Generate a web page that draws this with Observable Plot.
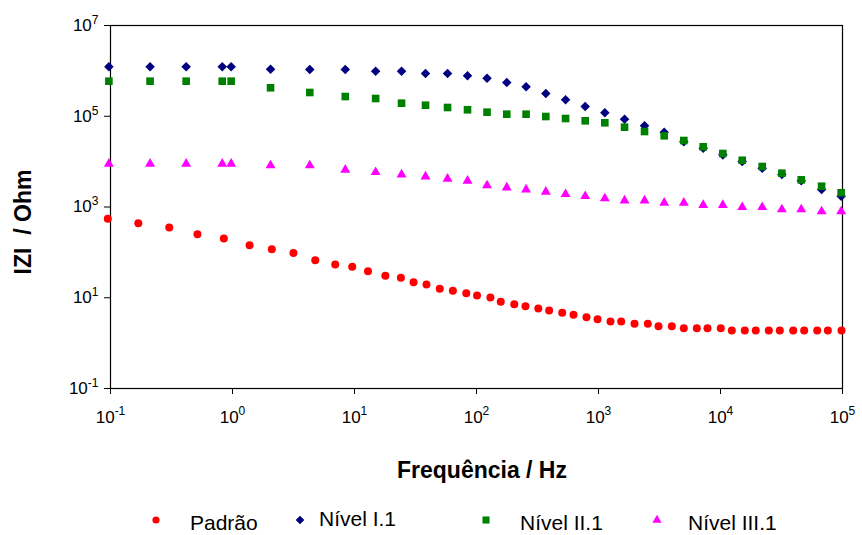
<!DOCTYPE html>
<html>
<head>
<meta charset="utf-8">
<script src="https://cdn.jsdelivr.net/npm/d3@7"></script>
<script src="https://cdn.jsdelivr.net/npm/@observablehq/plot@0.6"></script>
<style>
  body { margin: 0; background: #fff; }
  #chart { width: 862px; height: 535px; position: relative; overflow: hidden; background: #fff;
           font-family: "Liberation Sans", Arial, sans-serif; }
  #chart svg { display: block; }
</style>
</head>
<body>
<div id="chart"></div>
<script>
// ---- Data ----
const seriesNames = ["Padrão", "Nível I.1", "Nível II.1", "Nível III.1"];
const seriesColors = ["#FF0000", "#000080", "#008000", "#FF00FF"];

const freqPadrao = [0.095, 0.169, 0.303, 0.516, 0.849, 1.38, 2.10, 3.16, 4.77, 6.95,
  9.58, 12.9, 17.9, 24.0, 30.5, 38.9, 50.0, 64.0, 82.4, 101,
  130, 158, 204, 252, 321, 394, 504, 624, 797, 982,
  1254, 1535, 1972, 2537, 3104, 3990, 5002, 6394, 7822, 10050,
  12380, 15820, 19460, 24890, 30630, 39430, 48530, 62050, 75860, 98200];
const zPadrao = [550, 440, 353, 251, 202, 144, 117, 97, 67, 54,
  48, 38.5, 30.5, 27.5, 22, 19.6, 15.7, 14.2, 12.6, 11.2,
  10.1, 8.15, 7.21, 6.52, 5.80, 5.24, 4.66, 4.21, 3.73, 3.37,
  3.00, 3.00, 2.67, 2.67, 2.36, 2.36, 2.13, 2.13, 2.13, 2.13,
  1.90, 1.90, 1.90, 1.90, 1.90, 1.90, 1.90, 1.90, 1.90, 1.90];

const freqNivel = [0.097, 0.211, 0.417, 0.824, 0.975, 2.05, 4.30, 8.40, 14.9, 24.3,
  38.2, 57.9, 84.4, 122, 177, 255, 370, 537, 778, 1127,
  1635, 2384, 3456, 5005, 7215, 10450, 15070, 21980, 31840, 45920,
  67400, 97500];
const zNivel1 = [1.23e6, 1.23e6, 1.23e6, 1.23e6, 1.23e6, 1.09e6, 1.07e6, 1.07e6, 9.84e5, 9.84e5,
  8.75e5, 8.75e5, 7.78e5, 6.90e5, 5.55e5, 4.46e5, 3.17e5, 2.30e5, 1.64e5, 1.19e5,
  8.61e4, 6.16e4, 4.45e4, 2.73e4, 1.98e4, 1.41e4, 1.01e4, 7.16e3, 5.20e3, 3.78e3,
  2.43e3, 1.73e3];
const zNivel2 = [5.92e5, 5.92e5, 5.92e5, 5.92e5, 5.92e5, 4.24e5, 3.34e5, 2.72e5, 2.46e5, 1.94e5,
  1.75e5, 1.56e5, 1.39e5, 1.23e5, 1.11e5, 1.11e5, 9.87e4, 8.92e4, 7.94e4, 7.18e4,
  5.74e4, 4.61e4, 3.71e4, 2.92e4, 2.12e4, 1.51e4, 1.07e4, 7.81e3, 5.56e3, 3.97e3,
  2.87e3, 2.06e3];
const zNivel3 = [8950, 8950, 8950, 8950, 8950, 8220, 8220, 6610, 5850, 5200,
  4700, 4180, 3780, 2980, 2690, 2430, 2160, 1920, 1730, 1540,
  1390, 1390, 1240, 1240, 1100, 1100, 991, 991, 881, 881,
  796, 796];

const xTicks = [1e-1, 1e0, 1e1, 1e2, 1e3, 1e4, 1e5];
const yTicks = [1e-1, 1e1, 1e3, 1e5, 1e7];

const xTitle = "Frequência / Hz";
const yTitle = "IZI  / Ohm";

// ---- Tables ----
const toRows = (fs, zs) => fs.map((f, i) => ({f, z: zs[i]}));
const padrao = toRows(freqPadrao, zPadrao);
const nivel1 = toRows(freqNivel, zNivel1);
const nivel2 = toRows(freqNivel, zNivel2);
const nivel3 = toRows(freqNivel, zNivel3);

const fmt = d => "10|" + Math.round(Math.log10(d));
const FONT = '"Liberation Sans", Arial, sans-serif';

const plot = Plot.plot({
  width: 862,
  height: 490,
  marginLeft: 110,
  marginRight: 20,
  marginTop: 25,
  marginBottom: 102,
  style: {fontFamily: FONT, fontSize: "17px", color: "black", background: "white", overflow: "visible"},
  x: {type: "log", domain: [0.1, 1e5]},
  y: {type: "log", domain: [0.1, 1e7]},
  marks: [
    Plot.frame({stroke: "black", strokeWidth: 1.2}),
    Plot.axisX({ticks: xTicks, tickSize: 6, tickPadding: 16, tickFormat: fmt, label: null}),
    Plot.axisY({ticks: yTicks, tickSize: 6, tickPadding: 6, tickFormat: fmt, label: null}),
    Plot.dot(padrao, {x: "f", y: "z", symbol: "circle", r: 4, fill: seriesColors[0], stroke: null}),
    Plot.dot(nivel1, {x: "f", y: "z", symbol: "diamond2", r: 4.3, fill: seriesColors[1], stroke: null}),
    Plot.dot(nivel2, {x: "f", y: "z", symbol: "square", r: 4.3, fill: seriesColors[2], stroke: null}),
    Plot.dot(nivel3, {x: "f", y: "z", symbol: "triangle", r: 3.7, fill: seriesColors[3], stroke: null})
  ]
});

// superscript exponents on tick labels
const svg = d3.select(plot);
svg.selectAll('g[aria-label="x-axis tick label"] text, g[aria-label="y-axis tick label"] text').each(function () {
  const t = d3.select(this);
  const parts = t.text().split("|");
  t.text(parts[0]);
  t.append("tspan").attr("dy", "-0.6em").attr("font-size", "12px").text(parts[1]);
});

// axis titles
svg.append("text")
  .attr("x", 482).attr("y", 478)
  .attr("text-anchor", "middle")
  .attr("font-family", FONT).attr("font-weight", "bold").attr("font-size", "23px")
  .attr("fill", "black")
  .text(xTitle);
svg.append("text")
  .attr("transform", "translate(31,222) rotate(-90)")
  .attr("text-anchor", "middle")
  .attr("font-family", FONT).attr("font-weight", "bold").attr("font-size", "23px")
  .attr("fill", "black")
  .style("white-space", "pre")
  .text(yTitle);

document.getElementById("chart").appendChild(plot);

// ---- Legend (below the plot) ----
const leg = d3.create("svg").attr("width", 862).attr("height", 45)
  .attr("font-family", FONT).attr("font-size", "21px");
const legSymbols = [d3.symbolCircle, d3.symbolDiamond2, d3.symbolSquare, d3.symbolTriangle];
const legRadii = [3.6, 3.9, 4.0, 3.4];
const legMarkX = [156, 300, 486, 657];
const legTextX = [190, 319, 520, 688];
const legTextY = [40, 36, 40, 40];
seriesNames.forEach((name, i) => {
  leg.append("path")
    .attr("transform", `translate(${legMarkX[i]},30)`)
    .attr("d", d3.symbol(legSymbols[i], Math.PI * legRadii[i] * legRadii[i])())
    .attr("fill", seriesColors[i]);
  leg.append("text").attr("x", legTextX[i]).attr("y", legTextY[i]).attr("fill", "black").text(name);
});
document.getElementById("chart").appendChild(leg.node());
</script>
</body>
</html>
